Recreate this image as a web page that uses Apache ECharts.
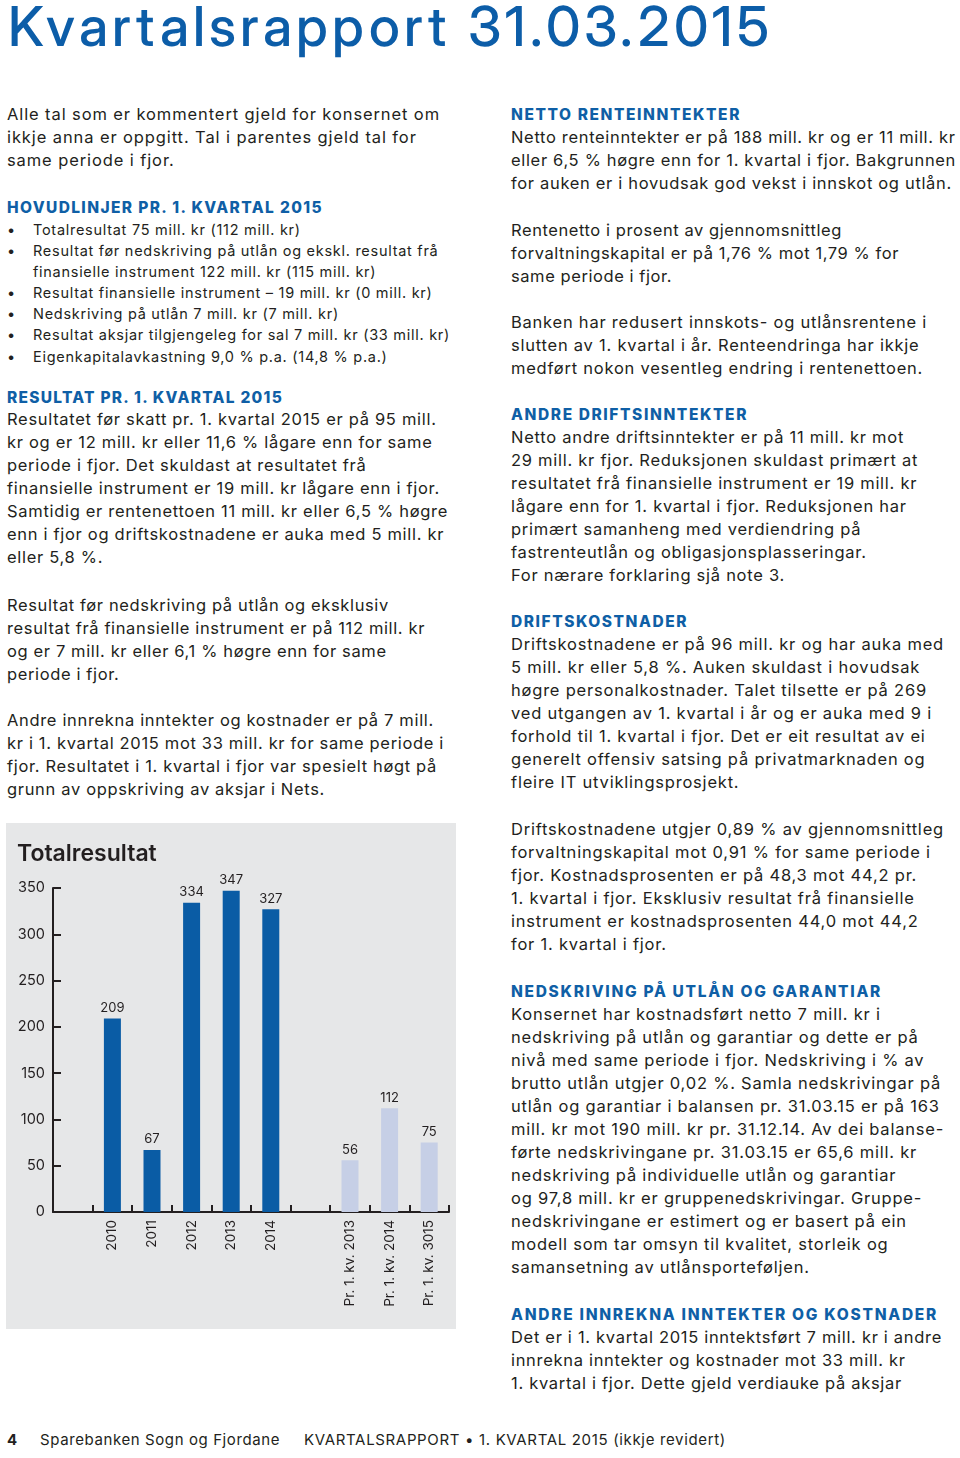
<!DOCTYPE html>
<html lang="nn">
<head>
<meta charset="utf-8">
<title>Kvartalsrapport 31.03.2015</title>
<script src="https://cdn.jsdelivr.net/npm/echarts@6/dist/echarts.min.js"></script>
<style>
  @font-face {
    font-family: 'TitleInter';
    src: local('Inter Medium'), local('Inter-Medium'), local('Inter'), local('Inter Regular'), local('Inter-Regular');
    font-weight: 500;
    ascent-override: 76%;
    descent-override: 20%;
    line-gap-override: 0%;
  }
  html, body { margin: 0; padding: 0; width: 960px; height: 1458px; overflow: hidden; background: #ffffff; }
  body { position: relative; font-family: Inter, "Noto Sans", sans-serif; color: #231f20; }
  .blk { position: absolute; white-space: nowrap; }
  .title { left: 8px; top: 4px; font-family: 'TitleInter', Inter, sans-serif; font-size: 55px; line-height: normal; font-weight: 500; color: #0c5da8; }
  .p { font-size: 16.5px; line-height: 23px; }
  .h { font-size: 15.5px; line-height: 23px; font-weight: 800; color: #0f5fa6; }
  .bul { font-size: 14.5px; line-height: 21.1px; }
  .bul div { position: relative; }
  .bul i { position: absolute; left: -26px; font-style: normal; }
  .ft { font-size: 15px; line-height: 20px; }
  #chart { position: absolute; left: 6px; top: 823px; width: 450px; height: 506px; }
</style>
</head>
<body>

<div class="blk title" data-w="765"><div><span class="t">Kvartalsrapport 31.03.2015</span></div></div>

<!-- Left column -->
<div class="blk p" style="left:7px; top:103px;" data-w="433">
  <div><span class="t">Alle tal som er kommentert gjeld for konsernet om</span></div>
  <div><span class="t">ikkje anna er oppgitt. Tal i parentes gjeld tal for</span></div>
  <div><span class="t">same periode i fjor.</span></div>
</div>

<div class="blk h" style="left:7px; top:195.5px;" data-w="316">
  <div><span class="t">HOVUDLINJER PR. 1. KVARTAL 2015</span></div>
</div>

<div class="blk bul" style="left:33px; top:219px;" data-w="417">
  <div><i>•</i><span class="t">Totalresultat 75 mill. kr (112 mill. kr)</span></div>
  <div><i>•</i><span class="t">Resultat før nedskriving på utlån og ekskl. resultat frå</span></div>
  <div><span class="t">finansielle instrument 122 mill. kr (115 mill. kr)</span></div>
  <div><i>•</i><span class="t">Resultat finansielle instrument – 19 mill. kr (0 mill. kr)</span></div>
  <div><i>•</i><span class="t">Nedskriving på utlån 7 mill. kr (7 mill. kr)</span></div>
  <div><i>•</i><span class="t">Resultat aksjar tilgjengeleg for sal 7 mill. kr (33 mill. kr)</span></div>
  <div><i>•</i><span class="t">Eigenkapitalavkastning 9,0 % p.a. (14,8 % p.a.)</span></div>
</div>

<div class="blk h" style="left:7px; top:385.5px;" data-w="276">
  <div><span class="t">RESULTAT PR. 1. KVARTAL 2015</span></div>
</div>

<div class="blk p" style="left:7px; top:407.5px;" data-w="441">
  <div><span class="t">Resultatet før skatt pr. 1. kvartal 2015 er på 95 mill.</span></div>
  <div><span class="t">kr og er 12 mill. kr eller 11,6 % lågare enn for same</span></div>
  <div><span class="t">periode i fjor. Det skuldast at resultatet frå</span></div>
  <div><span class="t">finansielle instrument er 19 mill. kr lågare enn i fjor.</span></div>
  <div><span class="t">Samtidig er rentenettoen 11 mill. kr eller 6,5 % høgre</span></div>
  <div><span class="t">enn i fjor og driftskostnadene er auka med 5 mill. kr</span></div>
  <div><span class="t">eller 5,8 %.</span></div>
</div>

<div class="blk p" style="left:7px; top:594px;" data-w="418">
  <div><span class="t">Resultat før nedskriving på utlån og eksklusiv</span></div>
  <div><span class="t">resultat frå finansielle instrument er på 112 mill. kr</span></div>
  <div><span class="t">og er 7 mill. kr eller 6,1 % høgre enn for same</span></div>
  <div><span class="t">periode i fjor.</span></div>
</div>

<div class="blk p" style="left:7px; top:708.5px;" data-w="437">
  <div><span class="t">Andre innrekna inntekter og kostnader er på 7 mill.</span></div>
  <div><span class="t">kr i 1. kvartal 2015 mot 33 mill. kr for same periode i</span></div>
  <div><span class="t">fjor. Resultatet i 1. kvartal i fjor var spesielt høgt på</span></div>
  <div><span class="t">grunn av oppskriving av aksjar i Nets.</span></div>
</div>

<!-- Right column -->
<div class="blk h" style="left:511px; top:103px;" data-w="230">
  <div><span class="t">NETTO RENTEINNTEKTER</span></div>
</div>
<div class="blk p" style="left:511px; top:126px;" data-w="445">
  <div><span class="t">Netto renteinntekter er på 188 mill. kr og er 11 mill. kr</span></div>
  <div><span class="t">eller 6,5 % høgre enn for 1. kvartal i fjor. Bakgrunnen</span></div>
  <div><span class="t">for auken er i hovudsak god vekst i innskot og utlån.</span></div>
</div>
<div class="blk p" style="left:511px; top:219px;" data-w="388">
  <div><span class="t">Rentenetto i prosent av gjennomsnittleg</span></div>
  <div><span class="t">forvaltningskapital er på 1,76 % mot 1,79 % for</span></div>
  <div><span class="t">same periode i fjor.</span></div>
</div>
<div class="blk p" style="left:511px; top:310.5px;" data-w="416">
  <div><span class="t">Banken har redusert innskots- og utlånsrentene i</span></div>
  <div><span class="t">slutten av 1. kvartal i år. Renteendringa har ikkje</span></div>
  <div><span class="t">medført nokon vesentleg endring i rentenettoen.</span></div>
</div>

<div class="blk h" style="left:511px; top:402.5px;" data-w="237">
  <div><span class="t">ANDRE DRIFTSINNTEKTER</span></div>
</div>
<div class="blk p" style="left:511px; top:425.5px;" data-w="407">
  <div><span class="t">Netto andre driftsinntekter er på 11 mill. kr mot</span></div>
  <div><span class="t">29 mill. kr fjor. Reduksjonen skuldast primært at</span></div>
  <div><span class="t">resultatet frå finansielle instrument er 19 mill. kr</span></div>
  <div><span class="t">lågare enn for 1. kvartal i fjor. Reduksjonen har</span></div>
  <div><span class="t">primært samanheng med verdiendring på</span></div>
  <div><span class="t">fastrenteutlån og obligasjonsplasseringar.</span></div>
  <div><span class="t">For nærare forklaring sjå note 3.</span></div>
</div>

<div class="blk h" style="left:511px; top:610px;" data-w="177">
  <div><span class="t">DRIFTSKOSTNADER</span></div>
</div>
<div class="blk p" style="left:511px; top:633px;" data-w="433">
  <div><span class="t">Driftskostnadene er på 96 mill. kr og har auka med</span></div>
  <div><span class="t">5 mill. kr eller 5,8 %. Auken skuldast i hovudsak</span></div>
  <div><span class="t">høgre personalkostnader. Talet tilsette er på 269</span></div>
  <div><span class="t">ved utgangen av 1. kvartal i år og er auka med 9 i</span></div>
  <div><span class="t">forhold til 1. kvartal i fjor. Det er eit resultat av ei</span></div>
  <div><span class="t">generelt offensiv satsing på privatmarknaden og</span></div>
  <div><span class="t">fleire IT utviklingsprosjekt.</span></div>
</div>
<div class="blk p" style="left:511px; top:817.5px;" data-w="433">
  <div><span class="t">Driftskostnadene utgjer 0,89 % av gjennomsnittleg</span></div>
  <div><span class="t">forvaltningskapital mot 0,91 % for same periode i</span></div>
  <div><span class="t">fjor. Kostnadsprosenten er på 48,3 mot 44,2 pr.</span></div>
  <div><span class="t">1. kvartal i fjor. Eksklusiv resultat frå finansielle</span></div>
  <div><span class="t">instrument er kostnadsprosenten 44,0 mot 44,2</span></div>
  <div><span class="t">for 1. kvartal i fjor.</span></div>
</div>

<div class="blk h" style="left:511px; top:979.5px;" data-w="371">
  <div><span class="t">NEDSKRIVING PÅ UTLÅN OG GARANTIAR</span></div>
</div>
<div class="blk p" style="left:511px; top:1002.5px;" data-w="430">
  <div><span class="t">Konsernet har kostnadsført netto 7 mill. kr i</span></div>
  <div><span class="t">nedskriving på utlån og garantiar og dette er på</span></div>
  <div><span class="t">nivå med same periode i fjor. Nedskriving i % av</span></div>
  <div><span class="t">brutto utlån utgjer 0,02 %. Samla nedskrivingar på</span></div>
  <div><span class="t">utlån og garantiar i balansen pr. 31.03.15 er på 163</span></div>
  <div><span class="t">mill. kr mot 190 mill. kr pr. 31.12.14. Av dei balanse-</span></div>
  <div><span class="t">førte nedskrivingane pr. 31.03.15 er 65,6 mill. kr</span></div>
  <div><span class="t">nedskriving på individuelle utlån og garantiar</span></div>
  <div><span class="t">og 97,8 mill. kr er gruppenedskrivingar. Gruppe-</span></div>
  <div><span class="t">nedskrivingane er estimert og er basert på ein</span></div>
  <div><span class="t">modell som tar omsyn til kvalitet, storleik og</span></div>
  <div><span class="t">samansetning av utlånsporteføljen.</span></div>
</div>

<div class="blk h" style="left:511px; top:1302.5px;" data-w="427">
  <div><span class="t">ANDRE INNREKNA INNTEKTER OG KOSTNADER</span></div>
</div>
<div class="blk p" style="left:511px; top:1325.5px;" data-w="431">
  <div><span class="t">Det er i 1. kvartal 2015 inntektsført 7 mill. kr i andre</span></div>
  <div><span class="t">innrekna inntekter og kostnader mot 33 mill. kr</span></div>
  <div><span class="t">1. kvartal i fjor. Dette gjeld verdiauke på aksjar</span></div>
</div>

<!-- Footer -->
<div class="blk ft" style="left:7px; top:1430px; font-weight:700;"><div><span class="t">4</span></div></div>
<div class="blk ft" style="left:40px; top:1430px;" data-w="240"><div><span class="t">Sparebanken Sogn og Fjordane</span></div></div>
<div class="blk ft" style="left:304px; top:1430px;" data-w="422"><div><span class="t">KVARTALSRAPPORT • 1. KVARTAL 2015 (ikkje revidert)</span></div></div>

<div id="chart"></div>

<script>
// ---- Chart data ----
const chartTitle = 'Totalresultat';
const categories = ['', '2010', '2011', '2012', '2013', '2014', ' ', 'Pr. 1. kv. 2013', 'Pr. 1. kv. 2014', 'Pr. 1. kv. 3015'];
const annualValues = [209, 67, 334, 347, 327];      // 2010–2014
const quarterValues = [56, 112, 75];                // Pr. 1. kv. 2013–3015
const yMin = 0, yMax = 350, yStep = 50;

// ---- Fit text blocks to reference line widths ----
function fitText() {
  document.querySelectorAll('[data-w]').forEach(function (b) {
    b.style.letterSpacing = '0px';
    const W = +b.dataset.w;
    let max = 0, n = 1;
    b.querySelectorAll('span.t').forEach(function (s) {
      const w = s.getBoundingClientRect().width;
      if (w > max) { max = w; n = s.textContent.length; }
    });
    b.style.letterSpacing = ((W - max) / n).toFixed(3) + 'px';
  });
}
fitText();
if (document.fonts && document.fonts.ready) { document.fonts.ready.then(fitText); }

// ---- Chart ----
const DARK = '#0a5ca5';
const LIGHT = '#c6cfe6';
const INK = '#231f20';
const FONT = 'Inter';

const barData = [null]
  .concat(annualValues.map(function (v) { return { value: v, itemStyle: { color: DARK } }; }))
  .concat([null])
  .concat(quarterValues.map(function (v) { return { value: v, itemStyle: { color: LIGHT } }; }));

const chart = echarts.init(document.getElementById('chart'), null, { renderer: 'canvas' });
chart.setOption({
  animation: false,
  backgroundColor: '#e6e7e8',
  title: {
    text: chartTitle,
    left: 11,
    top: 20,
    padding: 0,
    textStyle: { fontFamily: FONT, fontSize: 23, fontWeight: 600, color: INK }
  },
  grid: { left: 47, right: 7, top: 65, bottom: 117, containLabel: false },
  xAxis: {
    type: 'category',
    data: categories,
    boundaryGap: true,
    axisLine: { show: true, lineStyle: { color: INK, width: 2 } },
    axisTick: { show: true, inside: true, length: 7, interval: 0, lineStyle: { color: INK, width: 2 } },
    axisLabel: { interval: 0, rotate: 90, margin: 8, fontFamily: FONT, fontSize: 13.5, color: INK }
  },
  yAxis: {
    type: 'value',
    min: yMin,
    max: yMax,
    interval: yStep,
    axisLine: { show: true, lineStyle: { color: INK, width: 2 } },
    axisTick: { show: true, inside: true, length: 8, lineStyle: { color: INK, width: 2 } },
    splitLine: { show: false },
    axisLabel: { margin: 8, fontFamily: FONT, fontSize: 14.5, color: INK }
  },
  series: [{
    type: 'bar',
    data: barData,
    barWidth: 17,
    label: { show: true, position: 'top', distance: 4, fontFamily: FONT, fontSize: 13, color: INK }
  }]
});
</script>
</body>
</html>
